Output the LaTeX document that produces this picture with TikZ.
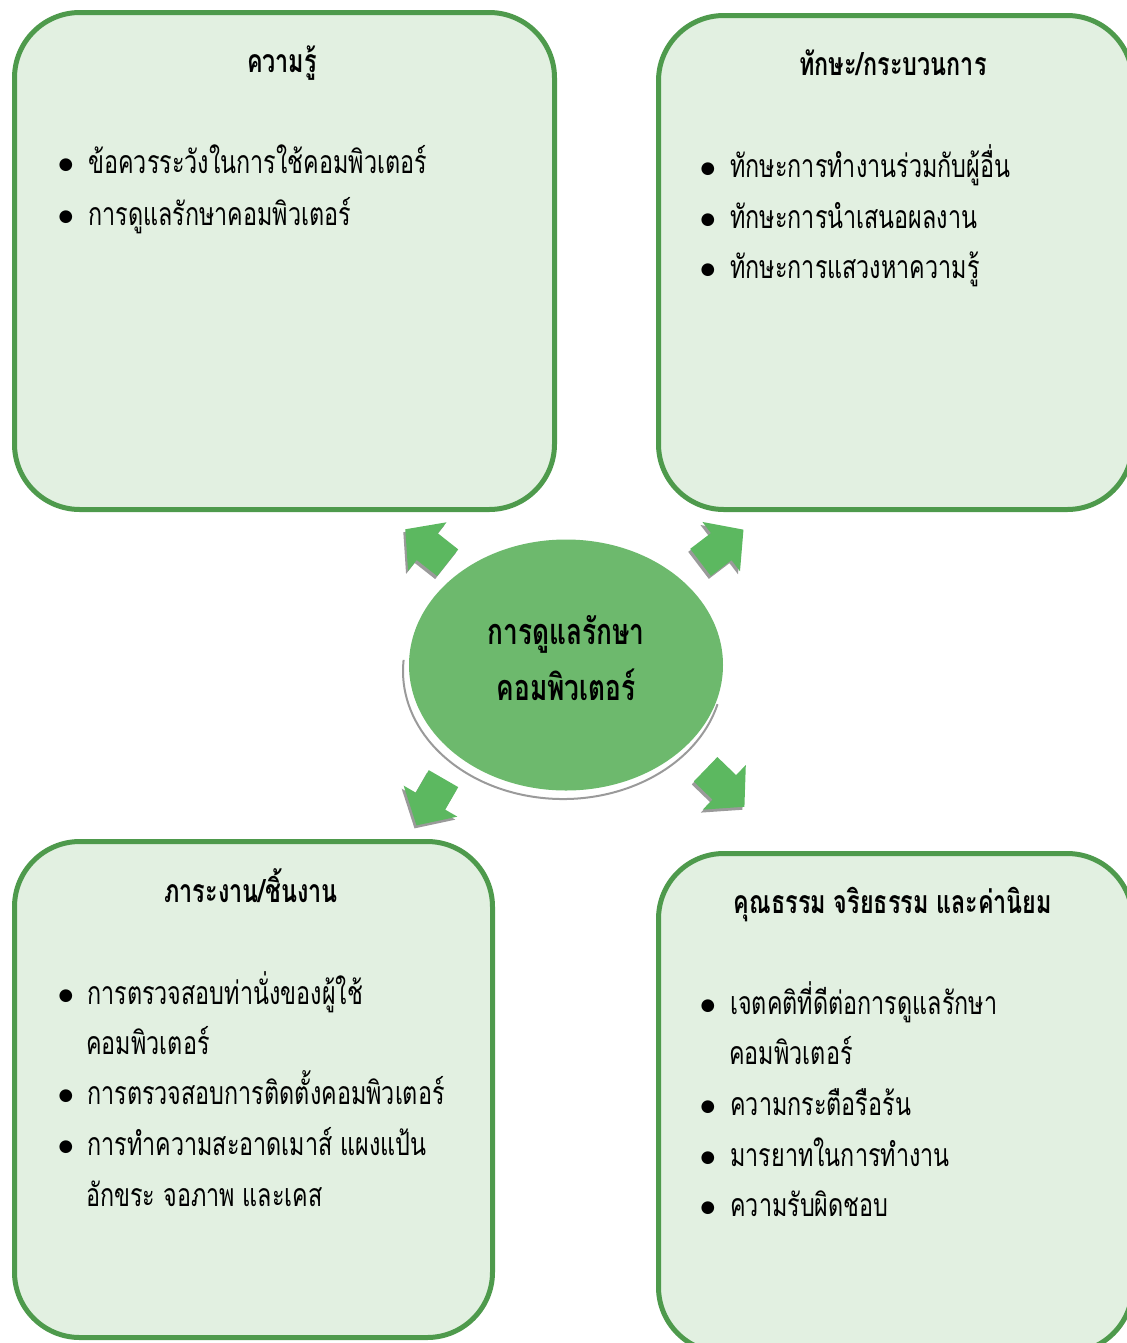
\documentclass[tikz,border=0pt]{standalone}
\usepackage{fontspec}
\setmainfont{Loma}[Script=Thai, FakeStretch=0.73]
\newfontfamily\symfont{DejaVu Sans}
\usetikzlibrary{shapes.geometric}
\definecolor{boxfill}{HTML}{E2F0E1}
\definecolor{boxline}{HTML}{4E9A4C}
\definecolor{ellfill}{HTML}{6DB96D}
\definecolor{arrfill}{HTML}{5CB860}
\definecolor{arrshadow}{HTML}{9A9A9A}
\newcommand\blockarrow[2]{%
  \begin{scope}[shift={(#1)}, xshift=-1.5pt, yshift=-2.25pt, rotate=#2]
    \fill[arrshadow] (27,0) -- (-1,31) -- (-1,17) -- (-27,17) -- (-27,-17) -- (-1,-17) -- (-1,-31) -- cycle;
  \end{scope}
  \begin{scope}[shift={(#1)}, rotate=#2]
    \fill[arrfill] (27,0) -- (-1,31) -- (-1,17) -- (-27,17) -- (-27,-17) -- (-1,-17) -- (-1,-31) -- cycle;
  \end{scope}}
\begin{document}
\begin{tikzpicture}[x=0.75pt,y=-0.75pt,
  panel/.style={draw=boxline, line width=3.75pt, fill=boxfill, rounded corners=49pt, anchor=north west, inner sep=0pt},
  ttl/.style={font=\fontsize{24}{28}\selectfont\bfseries, anchor=base, inner sep=0pt},
  itm/.style={font=\fontsize{24}{28}\selectfont, anchor=base west, inner sep=0pt},
  dot/.style={font=\symfont\fontsize{12.5}{13}\selectfont, anchor=base, inner sep=0pt}]
\useasboundingbox (0,0) rectangle (1127,1343);
% panels
\node[panel, minimum width=405pt, minimum height=372.75pt] (know) at (12,10) {};
\node[panel, minimum width=355.5pt, minimum height=370.5pt] (skill) at (656,13) {};
\node[panel, minimum width=358.5pt, minimum height=372pt] (task) at (12,839) {};
\node[panel, minimum width=355.5pt, minimum height=374.25pt] (moral) at (656,851) {};
% center
\draw[arrshadow, line width=1.5pt] ([shift={(15:160 and 128)}]563,671) arc[start angle=15, end angle=185, x radius=160, y radius=128];
\node[ellipse, fill=ellfill, minimum width=235.5pt, minimum height=188.25pt, inner sep=0pt] (core) at (566,665) {};
\node[font=\fontsize{27}{42}\selectfont\bfseries, align=center, anchor=base, inner sep=0pt] (coret) at (566,700) {การดูแลรักษา\\คอมพิวเตอร์};
% arrows
\blockarrow{426.5,546}{141.7}
\blockarrow{722,546}{37.3}
\blockarrow{430,802}{240}
\blockarrow{725,788}{-44}
% knowledge
\node[ttl] (t1) at (282,72) {ความรู้};
\node[dot] (b11) at (66,169) {●};
\node[itm] (i11) at (88,173) {ข้อควรระวังในการใช้คอมพิวเตอร์};
\node[dot] (b12) at (66,221) {●};
\node[itm] (i12) at (88,225) {การดูแลรักษาคอมพิวเตอร์};
% skills
\node[ttl] (t2) at (893,75) {ทักษะ/กระบวนการ};
\node[dot] (b21) at (708,173) {●};
\node[itm] (i21) at (730,177) {ทักษะการทำงานร่วมกับผู้อื่น};
\node[dot] (b22) at (708,224) {●};
\node[itm] (i22) at (730,228) {ทักษะการนำเสนอผลงาน};
\node[dot] (b23) at (708,274) {●};
\node[itm] (i23) at (730,278) {ทักษะการแสวงหาความรู้};
% tasks
\node[ttl] (t3) at (251,902) {ภาระงาน/ชิ้นงาน};
\node[dot] (b31) at (66,1000) {●};
\node[itm] (i31) at (87,1004) {การตรวจสอบท่านั่งของผู้ใช้};
\node[itm] (i31b) at (86,1054) {คอมพิวเตอร์};
\node[dot] (b32) at (66,1100) {●};
\node[itm] (i32) at (87,1104) {การตรวจสอบการติดตั้งคอมพิวเตอร์};
\node[dot] (b33) at (66,1151) {●};
\node[itm] (i33) at (87,1155) {การทำความสะอาดเมาส์ แผงแป้น};
\node[itm] (i33b) at (86,1206) {อักขระ จอภาพ และเคส};
% morals
\node[ttl] (t4) at (893,913) {คุณธรรม จริยธรรม และค่านิยม};
\node[dot] (b41) at (708,1010) {●};
\node[itm] (i41) at (730,1014) {เจตคติที่ดีต่อการดูแลรักษา};
\node[itm] (i41b) at (729,1064) {คอมพิวเตอร์};
\node[dot] (b42) at (708,1111) {●};
\node[itm] (i42) at (730,1115) {ความกระตือรือร้น};
\node[dot] (b43) at (708,1162) {●};
\node[itm] (i43) at (730,1166) {มารยาทในการทำงาน};
\node[dot] (b44) at (708,1212) {●};
\node[itm] (i44) at (730,1216) {ความรับผิดชอบ};
\end{tikzpicture}
\end{document}
